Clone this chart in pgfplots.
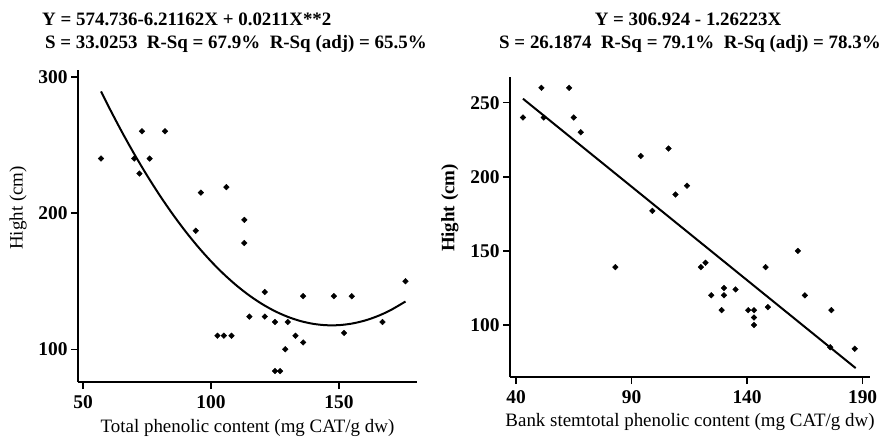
\documentclass[border=0pt]{standalone}
\usepackage{fontspec}
\setmainfont{Liberation Serif}
\usepackage{pgfplots}
\usepackage{pgfplotstable}
\pgfplotsset{compat=1.18}

% total phenolic content vs height
\pgfplotstableread{
x y
57 240
73 260
82 260
70 240
76 240
72 229
96 215
106 219
94 187
113 195
113 178
176 150
121 142
136 139
148 139
155 139
115 124
121 124
125 120
130 120
167 120
133 110
152 112
136 105
129 100
102.5 110
105 110
108 110
125 84
127 84
}\leftdata

% quadratic fit Y = 574.736 - 6.21162X + 0.0211X^2, evaluated
\pgfplotstableread{
x y
57 289.23
60 278.00
65 260.13
70 243.31
75 227.55
80 212.85
85 199.20
90 186.60
95 175.06
100 164.57
105 155.14
110 146.77
115 139.45
120 133.18
125 127.97
130 123.82
135 120.72
140 118.67
145 117.68
150 117.74
155 118.86
160 121.04
165 124.27
170 128.55
176 135.09
}\leftfit

% bark stem phenolic content vs height
\pgfplotstableread{
x y
43 240
51 260
52 240
63 260
65 240
68 230
94 214
106 219
114 194
109 188
99 177
162 150
83 139
120 139
122 142
124.5 120
130 125
130 120
129 110
135 124
140.5 110
143 110
143 105
143 100
148 139
149 112
165 120
176.5 110
176 85
186.6 84
}\rightdata

% linear fit Y = 306.924 - 1.26223X
\pgfplotstableread{
x y
43 252.65
187 70.89
}\rightfit

\pgfplotsset{minitab/.style={
  scale only axis,
  axis lines*=left,
  axis line style={line width=2.4bp},
  tick align=outside,
  major tick length=7bp,
  tick style={line width=1.6bp, black},
  /pgf/number format/assume math mode=true,
  ticklabel style={font=\fontsize{19.5}{23}\selectfont\bfseries},
  xticklabel style={yshift=-3.5bp},
  xlabel style={anchor=center},
  ylabel style={anchor=center},
  clip=false,
}}

\begin{document}
\begin{tikzpicture}[font=\fontsize{19}{23}\selectfont]
\path[use as bounding box] (0,0) rectangle (886bp,438bp);

\begin{axis}[minitab,
  at={(78bp,56bp)}, anchor=south west,
  width=339bp, height=312bp,
  xmin=48, xmax=180.5, ymin=76, ymax=305,
  xtick={50,100,150}, ytick={100,200,300},
  xlabel={Total phenolic content (mg CAT/g dw)},
  xlabel style={at={(axis description cs:0.5,-0.147)}},
  ylabel={Hight (cm)},
  ylabel style={at={(axis description cs:-0.177,0.558)}},
]
\addplot[only marks, mark=square*, mark size=2bp, mark options={rotate=45, black}] table {\leftdata};
\addplot[black, line width=2bp, smooth, no marks] table {\leftfit};
\end{axis}

\begin{axis}[minitab,
  at={(510bp,61bp)}, anchor=south west,
  width=360bp, height=300bp,
  xmin=37.4, xmax=193.2, ymin=64.9, ymax=267.3,
  xtick={40,90,140,190}, ytick={100,150,200,250},
  xlabel={Bank stemtotal phenolic content (mg CAT/g dw)},
  xlabel style={at={(axis description cs:0.5,-0.15)}},
  ylabel={\bfseries Hight (cm)},
  ylabel style={at={(axis description cs:-0.167,0.563)}},
]
\addplot[only marks, mark=square*, mark size=2bp, mark options={rotate=45, black}] table {\rightdata};
\addplot[black, line width=2bp, no marks] table {\rightfit};
\end{axis}

\begin{scope}[every node/.style={inner sep=0pt, font=\fontsize{19}{23}\selectfont\bfseries}]
\node[anchor=base west] at (42bp,412bp) {Y = 574.736-6.21162X + 0.0211X**2};
\node[anchor=base west] at (45bp,389bp) {S = 33.0253\ \ R-Sq = 67.9\%\ \ R-Sq (adj) = 65.5\%};
\node[anchor=base] at (688bp,412bp) {Y = 306.924 - 1.26223X};
\node[anchor=base] at (690bp,389bp) {S = 26.1874\ \ R-Sq = 79.1\%\ \ R-Sq (adj) = 78.3\%};
\end{scope}
\end{tikzpicture}
\end{document}
